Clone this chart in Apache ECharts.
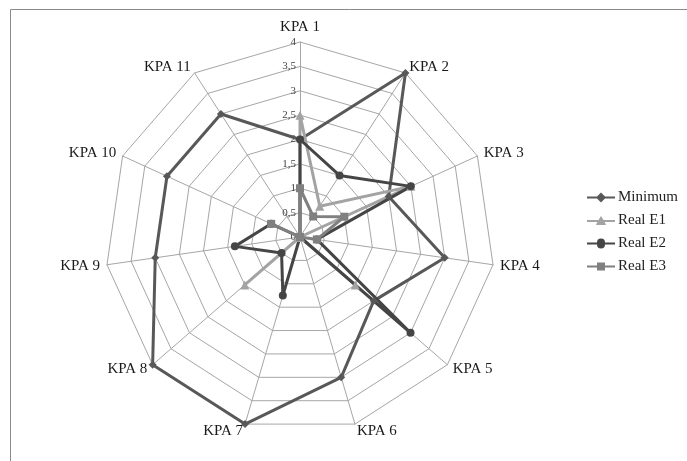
<!DOCTYPE html>
<html>
<head>
<meta charset="utf-8">
<script src="https://cdn.jsdelivr.net/npm/echarts@6/dist/echarts.min.js"></script>
<style>
html, body { margin: 0; padding: 0; background: #fff; }
#chart { width: 687px; height: 461px; }
</style>
</head>
<body>
<div id="chart"></div>
<script>
// data
var kpas = ['KPA 1', 'KPA 2', 'KPA 3', 'KPA 4', 'KPA 5', 'KPA 6', 'KPA 7', 'KPA 8', 'KPA 9', 'KPA 10', 'KPA 11'];
var axisMax = 4;
var minimum = [2, 4, 2, 3, 2, 3, 4, 4, 3, 3, 3];
var realE1 = [2.5, 0.75, 2.5, 0, 1.5, 0, 0, 1.5, 0, 0, 0];
var realE2 = [2, 1.5, 2.5, 0.35, 3, 0, 1.25, 0.5, 1.35, 0.65, 0];
var realE3 = [1, 0.5, 1, 0.35, 0, 0, 0, 0, 0, 0.65, 0];

var serif = '"Liberation Serif", "DejaVu Serif", serif';

// echarts lays radar axes out counter-clockwise, excel goes clockwise:
// keep KPA 1 first and reverse the rest
function cw(arr) {
    return [arr[0]].concat(arr.slice(1).reverse());
}

// legend icons: short line with the marker in the middle
var icons = {
    diamond: 'path://M0,5L10,5L14,1L18,5L28,5L28,7L18,7L14,11L10,7L0,7Z',
    triangle: 'path://M0,5L11.5,5L14,1L16.5,5L28,5L28,7L17.7,7L19,10L9,10L10.3,7L0,7Z',
    circle: 'path://M0,5L10,5A4,4,0,0,1,18,5L28,5L28,7L18,7A4,4,0,0,1,10,7L0,7Z',
    rect: 'path://M0,5L10,5L10,2L18,2L18,5L28,5L28,7L18,7L18,10L10,10L10,7L0,7Z'
};

var indicators = cw(kpas).map(function (k, i) {
    var ind = { name: k, min: 0, max: axisMax };
    if (i === 0) {
        // tick values only on the first axis, decimal comma like the original
        ind.axisLabel = {
            show: true,
            color: '#444',
            fontSize: 11,
            fontFamily: serif,
            align: 'right',
            verticalAlign: 'middle',
            margin: 4,
            formatter: function (v) { return String(v).replace('.', ','); }
        };
    }
    return ind;
});

function item(name, values, color, symbol, size, width) {
    return {
        name: name,
        value: cw(values),
        symbol: symbol,
        symbolSize: size,
        lineStyle: { color: color, width: width },
        itemStyle: { color: color }
    };
}

var chart = echarts.init(document.getElementById('chart'));
chart.setOption({
    backgroundColor: '#fff',
    animation: false,
    graphic: [{
        type: 'rect',
        shape: { x: 10.5, y: 9.5, width: 720, height: 500 },
        style: { fill: 'none', stroke: '#8a8a8a', lineWidth: 1 },
        silent: true
    }],
    legend: {
        orient: 'vertical',
        left: 582,
        top: 185,
        itemWidth: 28,
        itemHeight: 12,
        itemGap: 8,
        textStyle: { fontFamily: serif, fontSize: 15, color: '#222', padding: [0, 0, 0, -2] },
        data: [
            { name: 'Minimum', icon: icons.diamond },
            { name: 'Real E1', icon: icons.triangle },
            { name: 'Real E2', icon: icons.circle },
            { name: 'Real E3', icon: icons.rect }
        ]
    },
    radar: {
        center: [300, 237],
        radius: 195,
        startAngle: 90,
        shape: 'polygon',
        splitNumber: 8,
        indicator: indicators,
        nameGap: 7,
        axisName: { color: '#1a1a1a', fontFamily: serif, fontSize: 15 },
        axisLine: { lineStyle: { color: '#a6a6a6', width: 1 } },
        splitLine: { lineStyle: { color: '#a6a6a6', width: 1 } },
        splitArea: { show: false },
        axisLabel: { show: false }
    },
    series: [{
        type: 'radar',
        data: [
            item('Minimum', minimum, '#585858', 'diamond', 8, 3),
            item('Real E1', realE1, '#a3a3a3', 'triangle', 9, 3),
            item('Real E2', realE2, '#454545', 'circle', 8, 3),
            item('Real E3', realE3, '#808080', 'rect', 8, 3)
        ]
    }]
});
</script>
</body>
</html>
